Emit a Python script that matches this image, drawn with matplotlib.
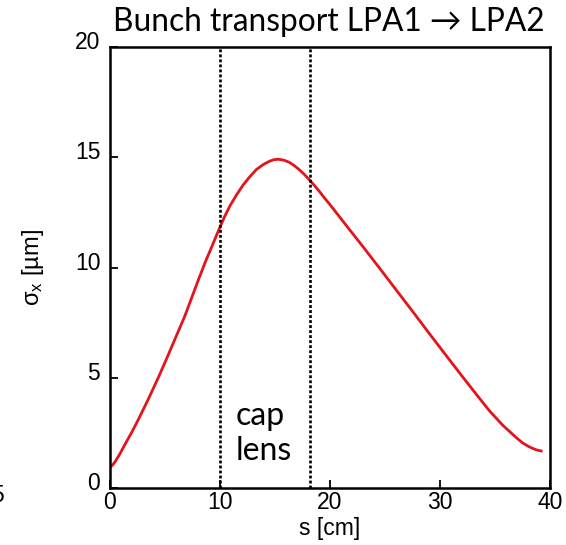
import numpy as np
import matplotlib
matplotlib.use('Agg')
import matplotlib.pyplot as plt
import matplotlib.transforms as mtransforms

# beam size along the transport line
s_cm = [0, 0.2, 0.45, 0.9, 1.36, 2.0, 2.57, 3.5, 4.38, 5.0, 5.6, 6.2, 6.8,
        7.4, 8.0, 8.7, 9.38, 9.92, 10.4, 10.9, 11.5, 12.1, 12.7, 13.3, 13.9,
        14.5, 14.9, 15.3, 15.8, 16.3, 16.75, 17.2, 17.65, 18.1, 18.6, 19.05,
        19.5, 20.0, 21.5, 23.0, 24.5, 26.0, 27.5, 29.0, 30.5, 32.0, 33.3,
        34.5, 35.7, 36.9, 37.5, 38.1, 38.7, 39.2]
sigma_x = [0.95, 1.02, 1.18, 1.55, 1.98, 2.55, 3.1, 4.05, 5.0, 5.7, 6.4, 7.1,
           7.8, 8.6, 9.4, 10.3, 11.1, 11.75, 12.3, 12.8, 13.3, 13.75, 14.12,
           14.45, 14.67, 14.83, 14.9, 14.92, 14.88, 14.78, 14.63, 14.45,
           14.24, 14.0, 13.72, 13.45, 13.16, 12.86, 11.9, 10.95, 9.98, 9.0,
           8.02, 7.03, 6.05, 5.08, 4.25, 3.5, 2.85, 2.3, 2.05, 1.87, 1.74,
           1.68]

# capillary lens boundaries
lens_edges = [10.0, 18.2]
xticks = [0, 10, 20, 30, 40]
yticks = [0, 5, 10, 15, 20]

plt.rcParams['font.family'] = ['Liberation Sans', 'DejaVu Sans']

fig = plt.figure(figsize=(5.66, 5.45), dpi=100)
ax = fig.add_axes([110/566, 1-488/545, 440/566, (488-47.3)/545])

ax.plot(s_cm, sigma_x, color='#e3141b', lw=2.0, solid_joinstyle='round')
for xe in lens_edges:
    ax.axvline(xe, color='black', lw=1.9, linestyle=(0, (1.1, 0.8)))

ax.set_xlim(0, 40)
ax.set_ylim(0, 20)
ax.set_xticks(xticks)
ax.set_yticks(yticks)
ax.tick_params(direction='in', length=6, width=1.3, labelsize=16.5,
               top=False, right=False)
ax.tick_params(axis='x', pad=2)
ax.tick_params(axis='y', pad=7)
for sp in ax.spines.values():
    sp.set_linewidth(1.8)

# y tick labels sit a little above their ticks in the original
off = mtransforms.ScaledTranslation(0, 7/100, fig.dpi_scale_trans)
for lab in ax.get_yticklabels():
    lab.set_transform(lab.get_transform() + off)

ax.set_xlabel('s [cm]', fontsize=16.5, labelpad=2)
ax.set_ylabel(r'$\mathregular{\sigma_x}$ [µm]', fontsize=17, labelpad=21)

ax.text(11.4, 1.0, 'cap\nlens', fontsize=23, family=['Lato', 'DejaVu Sans'],
        ha='left', va='bottom', linespacing=1.2)

fig.text(329/566, 1-22/545, 'Bunch transport LPA1 → LPA2', fontsize=22.8,
         family=['Lato', 'DejaVu Sans'], ha='center', va='center')

# stray clipped label at the left edge of the original
fig.text(-0.004, 1-495/545, '5', fontsize=16.5, ha='center', va='center')

fig.savefig('out.png', dpi=100)
